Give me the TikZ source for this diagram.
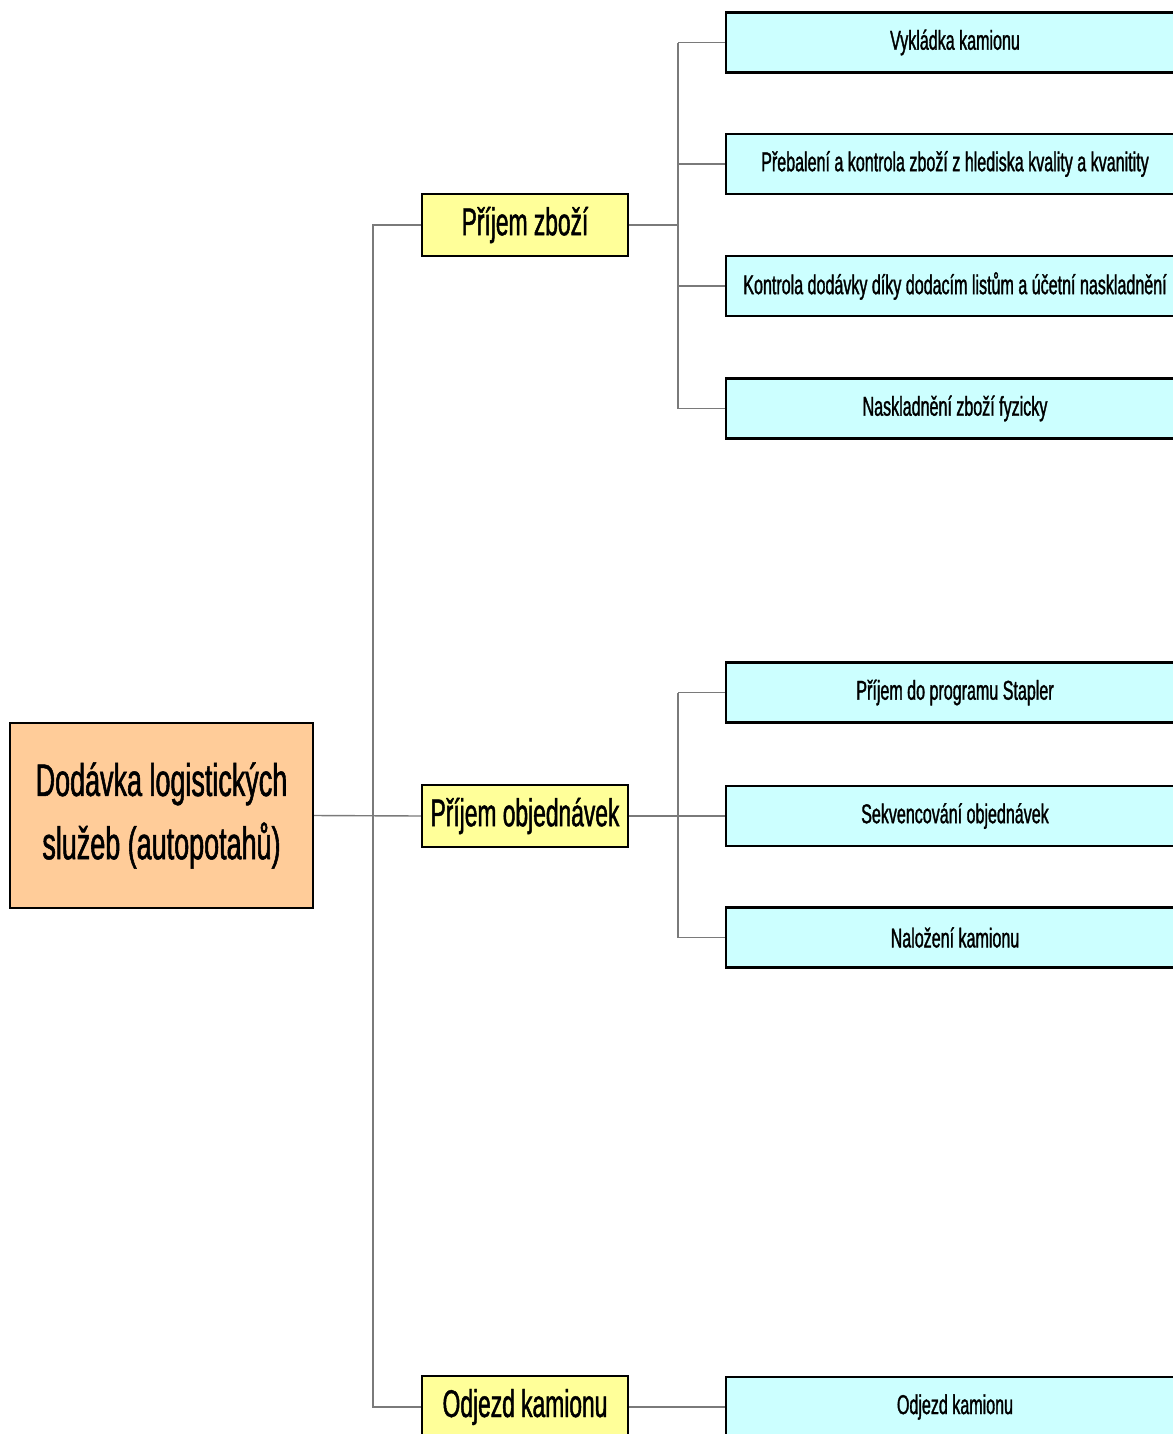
\documentclass[tikz,border=0pt]{standalone}
\usepackage{fontspec}
\setmainfont{Liberation Sans}[FakeStretch=0.59,FakeBold=1.2]
\definecolor{rootfill}{HTML}{FFCC99}
\definecolor{midfill}{HTML}{FFFF99}
\definecolor{leaffill}{HTML}{CCFFFF}
\definecolor{linkgray}{HTML}{7A7A7A}
\tikzset{
  rootbox/.style={draw=black,line width=1.3pt,fill=rootfill,minimum width=6.06cm,minimum height=3.7cm,align=center,font=\fontsize{26}{36}\selectfont},
  midbox/.style={draw=black,line width=1.3pt,fill=midfill,minimum width=4.12cm,minimum height=1.24cm,font=\fontsize{22}{26}\selectfont},
  leafbox/.style={draw=black,line width=1.3pt,fill=leaffill,minimum width=9.16cm,minimum height=1.2cm,font=\fontsize{15.5}{18}\selectfont},
  link/.style={draw=linkgray,line width=0.8pt}
}
\begin{document}
\begin{tikzpicture}[x=0.02cm,y=-0.02cm]
\useasboundingbox (0,0) rectangle (1173,1434);
\clip (0,0) rectangle (1173,1434);
\coordinate (busR) at (373,0);
\coordinate (busA) at (678,0);
\coordinate (busB) at (678,0);
% vetve
\node[rootbox] (root) at (161.5,815.5) {Dodávka logistických\\služeb (autopotahů)};
\node[midbox] (pz) at (525,225) {Příjem zboží};
\node[midbox] (po) at (525,816) {Příjem objednávek};
\node[midbox] (oj) at (525,1407) {Odjezd kamionu};
% listy
\node[leafbox] (a1) at (955,42.5) {Vykládka kamionu};
\node[leafbox] (a2) at (955,164) {Přebalení a kontrola zboží z hlediska kvality a kvanitity};
\node[leafbox] (a3) at (955,286) {Kontrola dodávky díky dodacím listům a účetní naskladnění};
\node[leafbox] (a4) at (955,408.5) {Naskladnění zboží fyzicky};
\node[leafbox] (b1) at (955,692.5) {Příjem do programu Stapler};
\node[leafbox] (b2) at (955,816) {Sekvencování objednávek};
\node[leafbox] (b3) at (955,937.5) {Naložení kamionu};
\node[leafbox] (c1) at (955,1407) {Odjezd kamionu};
% spojnice
\draw[link] (root.east) -- (po.west);
\draw[link] (pz.west) -- (pz.west -| busR) -- (oj.west -| busR) -- (oj.west);
\draw[link] (pz.east) -- (pz.east -| busA);
\draw[link] (a1.west -| busA) -- (a4.west -| busA);
\foreach \n in {a1,a2,a3,a4}
  \draw[link] (\n.west) -- (\n.west -| busA);
\draw[link] (po.east) -- (b2.west);
\draw[link] (b1.west -| busB) -- (b3.west -| busB);
\foreach \n in {b1,b3}
  \draw[link] (\n.west) -- (\n.west -| busB);
\draw[link] (oj.east) -- (c1.west);
\end{tikzpicture}
\end{document}
